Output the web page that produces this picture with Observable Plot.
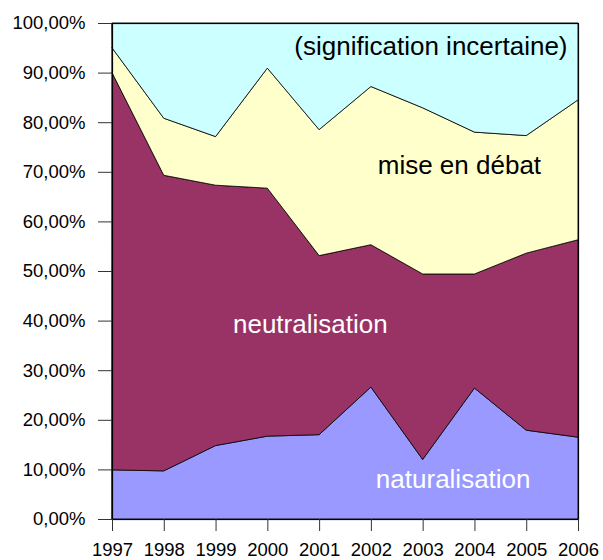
<!DOCTYPE html>
<html>
<head>
<meta charset="utf-8">
<script src="https://cdn.jsdelivr.net/npm/d3@7"></script>
<script src="https://cdn.jsdelivr.net/npm/@observablehq/plot@0.6"></script>
<style>
  html, body { margin: 0; padding: 0; background: white; }
  #chart svg { display: block; }
</style>
</head>
<body>
<div id="chart"></div>
<script>
const years = [1997, 1998, 1999, 2000, 2001, 2002, 2003, 2004, 2005, 2006];
const naturalisation = [9.9, 9.7, 14.8, 16.7, 17.0, 26.6, 12.0, 26.4, 17.9, 16.5];
const neutralisation = [80.1, 59.6, 52.5, 50.0, 36.1, 28.7, 37.4, 23.0, 35.7, 39.8];
const miseEnDebat = [5.0, 11.5, 9.8, 24.2, 25.4, 31.9, 33.5, 28.6, 23.7, 28.2];
const incertaine = [5.0, 19.2, 22.9, 9.1, 21.5, 12.8, 17.1, 22.0, 22.7, 15.5];
const yTicks = [0, 10, 20, 30, 40, 50, 60, 70, 80, 90, 100];

const seriesNames = ["naturalisation", "neutralisation", "mise en débat", "(signification incertaine)"];
const seriesValues = [naturalisation, neutralisation, miseEnDebat, incertaine];
const seriesColors = ["#9999FF", "#993366", "#FFFFCC", "#CCFFFF"];

const labelNames = ["naturalisation", "neutralisation", "mise en débat", "(signification incertaine)"];
const labelYears = [2003.58, 2000.82, 2003.70, 2003.15];
const labelValues = [6.3, 37.6, 69.6, 93.7];
const labelColors = ["white", "white", "black", "black"];

const table = [];
seriesNames.forEach((s, i) => years.forEach((yr, j) => table.push({series: s, year: yr, value: seriesValues[i][j]})));
const labels = labelNames.map((t, i) => ({text: t, year: labelYears[i], value: labelValues[i], color: labelColors[i]}));

const font = "'Liberation Sans', Arial, sans-serif";

const chart = Plot.plot({
  width: 603,
  height: 560,
  marginLeft: 112,
  marginRight: 25,
  marginTop: 23,
  marginBottom: 41,
  style: {fontFamily: font, fontSize: "18.5px", color: "black", background: "white"},
  x: {domain: [1997, 2006]},
  y: {domain: [0, 100]},
  color: {domain: seriesNames, range: seriesColors},
  marks: [
    Plot.areaY(table, {x: "year", y: "value", z: "series", fill: "series", stroke: "black", strokeWidth: 0.8, order: seriesNames}),
    Plot.frame({stroke: "black", strokeWidth: 1.2}),
    Plot.axisY({ticks: yTicks, tickSize: 14, tickPadding: 13, stroke: "#333", tickFormat: d => d.toFixed(2).replace(".", ",") + "%", fontSize: 18.5, label: null}),
    Plot.axisX({ticks: years, tickSize: 12, tickPadding: 11, stroke: "#333", tickFormat: d => String(d), fontSize: 18.5, label: null}),
    Plot.text(labels, {x: "year", y: "value", text: "text", fill: "color", fontSize: 26, lineAnchor: "bottom", textAnchor: "middle"})
  ]
});
document.getElementById("chart").appendChild(chart);
</script>
</body>
</html>
